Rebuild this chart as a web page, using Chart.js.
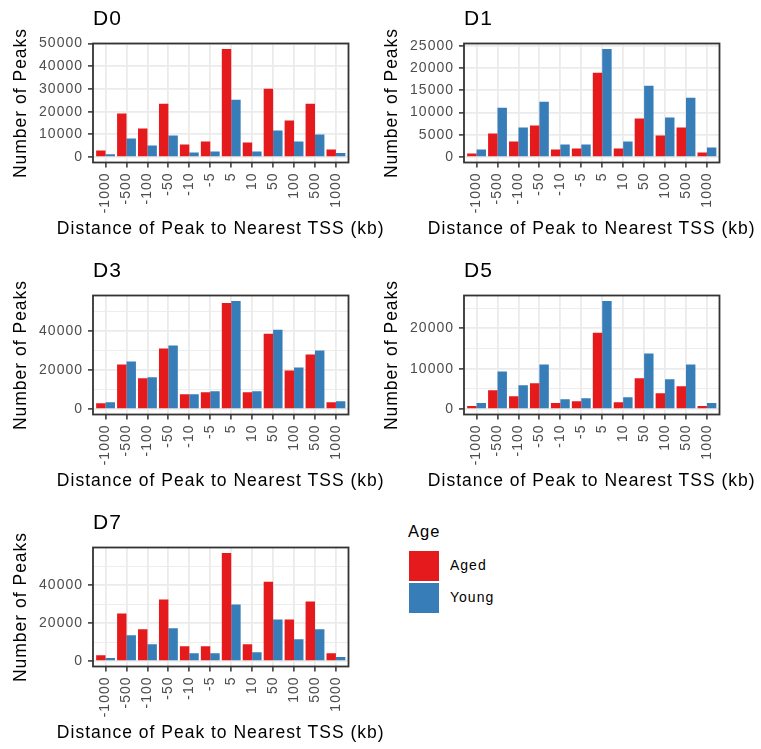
<!DOCTYPE html>
<html>
<head>
<meta charset="utf-8">
<script src="https://cdn.jsdelivr.net/npm/chart.js@4/dist/chart.umd.min.js"></script>
<style>
  html, body { margin: 0; padding: 0; background: #ffffff; }
  body { width: 761px; height: 749px; position: relative; overflow: hidden;
         font-family: "Liberation Sans", Arial, Helvetica, sans-serif; letter-spacing: 1px; }
  .cell { position: absolute; width: 390px; height: 252px; }
  .cell canvas { display: block; }
  .lg { position: absolute; white-space: nowrap; color: #000; }
  .key { position: absolute; width: 30px; }
</style>
</head>
<body>
<div class="cell" style="left:0px;top:0px"><canvas id="c0" width="390" height="252"></canvas></div>
<div class="cell" style="left:371px;top:0px"><canvas id="c1" width="390" height="252"></canvas></div>
<div class="cell" style="left:0px;top:252px"><canvas id="c2" width="390" height="252"></canvas></div>
<div class="cell" style="left:371px;top:252px"><canvas id="c3" width="390" height="252"></canvas></div>
<div class="cell" style="left:0px;top:504px"><canvas id="c4" width="390" height="252"></canvas></div>

<div id="legend"></div>

<script>
// ---------- data ----------
const categories = ['-1000', '-500', '-100', '-50', '-10', '-5', '5', '10', '50', '100', '500', '1000'];
const panelTitles = ['D0', 'D1', 'D3', 'D5', 'D7'];
const seriesNames = ['Aged', 'Young'];
const legendTitle = 'Age';
const xAxisTitle = 'Distance of Peak to Nearest TSS (kb)';
const yAxisTitle = 'Number of Peaks';

const d0Aged  = [2900, 19150, 12600, 23500, 5550, 6900, 47660, 6400, 30100, 16100, 23500, 3350];
const d0Young = [1200, 8200, 5100, 9500, 2050, 2500, 25300, 2500, 11700, 6900, 9900, 1750];
const d1Aged  = [820, 5300, 3500, 7090, 1700, 1940, 18960, 1940, 8660, 4850, 6640, 1040];
const d1Young = [1700, 11100, 6640, 12460, 2840, 2840, 24330, 3500, 16040, 8880, 13360, 2160];
const d3Aged  = [3040, 22780, 15700, 30890, 7600, 8600, 54180, 8600, 38480, 19750, 27850, 3540];
const d3Young = [3540, 24300, 16200, 32400, 7600, 9110, 55190, 9110, 40500, 21270, 29870, 4050];
const d5Aged  = [740, 4670, 3200, 6390, 1480, 1970, 18930, 1720, 7620, 3930, 5660, 740];
const d5Young = [1480, 9340, 5900, 11070, 2460, 2700, 26800, 2950, 13770, 7380, 11070, 1480];
const d7Aged  = [3140, 25150, 16770, 32490, 7860, 7860, 57120, 8910, 41920, 22010, 31440, 4190];
const d7Young = [1570, 13620, 8910, 17290, 4190, 4190, 29870, 4720, 22010, 11530, 16770, 2100];

// labelled y-tick spacing per panel
const yTickSteps = [10000, 5000, 20000, 10000, 20000];

// ---------- styling ----------
const seriesColors = ['#E41A1C', '#377EB8'];
const FONT = '"Liberation Sans", Arial, Helvetica, sans-serif';
Chart.defaults.font.family = FONT;

const textPlugin = {
  id: 'textTweaks',
  beforeInit(chart) {
    const ctx = chart.ctx;
    const orig = ctx.fillText;
    // let axis titles keep their natural width (no maxWidth squeeze)
    ctx.fillText = function (t, x, y) { return orig.call(this, t, x, y); };
  },
  beforeDraw(chart) { chart.ctx.letterSpacing = '1px'; }
};
const borderPlugin = {
  id: 'panelBorder',
  afterDatasetsDraw(chart) {
    const { ctx, chartArea: a } = chart;
    ctx.save();
    ctx.strokeStyle = '#333333';
    ctx.lineWidth = 1.8;
    ctx.strokeRect(a.left, a.top, a.right - a.left, a.bottom - a.top);
    ctx.restore();
  }
};

function isMajor(v, step) {
  return Math.abs(v / step - Math.round(v / step)) < 1e-6;
}

function makeChart(canvasId, title, aged, young, step) {
  const top = Math.max(...aged, ...young);
  const ncat = categories.length;
  return new Chart(document.getElementById(canvasId), {
    type: 'bar',
    data: {
      labels: categories,
      datasets: [
        { label: seriesNames[0], data: aged, backgroundColor: seriesColors[0], borderWidth: 0 },
        { label: seriesNames[1], data: young, backgroundColor: seriesColors[1], borderWidth: 0 }
      ]
    },
    options: {
      responsive: false,
      animation: false,
      devicePixelRatio: 1,
      layout: { padding: { left: 0, right: 41.5, top: 0, bottom: 0 } },
      datasets: { bar: { categoryPercentage: 0.9, barPercentage: 1.0 } },
      plugins: {
        legend: { display: false },
        tooltip: { enabled: false },
        title: {
          display: true, text: title, align: 'start', fullSize: false,
          color: '#000000', font: { size: 21, weight: 'normal', family: FONT },
          padding: { top: 7, bottom: 11.3 }
        }
      },
      scales: {
        x: {
          type: 'category',
          offset: false,
          grid: { offset: false, color: '#EBEBEB', lineWidth: 1.8,
                  tickColor: '#333333', tickWidth: 1.5, tickLength: 5 },
          border: { display: false },
          ticks: { autoSkip: false, minRotation: 90, maxRotation: 90, padding: 5,
                   color: '#4D4D4D', font: { size: 14, family: FONT } },
          title: { display: true, text: xAxisTitle, color: '#000000',
                   font: { size: 17.5, family: FONT }, padding: { top: 0, bottom: 12 } },
          afterBuildTicks: (s) => { s._startValue = -0.6; s._valueRange = ncat - 1 + 1.2; },
          afterFit: (s) => { s.height = 89.5; }
        },
        y: {
          bounds: 'data',
          min: -0.05 * top,
          max: 1.05 * top,
          grid: {
            color: '#EBEBEB',
            lineWidth: (c) => (c.tick && isMajor(c.tick.value, step) ? 1.8 : 0.9),
            tickColor: (c) => (c.tick && isMajor(c.tick.value, step) ? '#333333' : 'rgba(0,0,0,0)'),
            tickWidth: 1.5, tickLength: 5
          },
          border: { display: false },
          ticks: {
            padding: 5, color: '#4D4D4D', font: { size: 14, family: FONT },
            callback: (v) => (isMajor(v, step) ? String(v) : '')
          },
          title: { display: true, text: yAxisTitle, color: '#000000',
                   font: { size: 17.5, family: FONT }, padding: { top: 10.5, bottom: 0 } },
          afterBuildTicks: (s) => {
            const t = [];
            for (let v = 0; v <= s.max + 1e-6; v += step / 2) t.push({ value: v });
            s.ticks = t;
          },
          afterFit: (s) => { s.width = 93; }
        }
      }
    },
    plugins: [textPlugin, borderPlugin]
  });
}

const panels = [
  [d0Aged, d0Young], [d1Aged, d1Young], [d3Aged, d3Young], [d5Aged, d5Young], [d7Aged, d7Young]
];
panels.forEach((p, i) => makeChart('c' + i, panelTitles[i], p[0], p[1], yTickSteps[i]));

// ---------- legend (HTML) ----------
(function buildLegend() {
  const lg = document.getElementById('legend');
  const t = document.createElement('div');
  t.className = 'lg';
  t.textContent = legendTitle;
  Object.assign(t.style, { left: '408px', top: '520.5px', fontSize: '16.5px', lineHeight: '20px', height: '20px' });
  lg.appendChild(t);
  seriesNames.forEach((name, i) => {
    const k = document.createElement('div');
    k.className = 'key';
    Object.assign(k.style, { left: '409px', top: (551 + i * 32) + 'px', height: '30px', background: seriesColors[i] });
    lg.appendChild(k);
    const l = document.createElement('div');
    l.className = 'lg';
    l.textContent = name;
    Object.assign(l.style, { left: '450px', top: (555 + i * 32) + 'px', fontSize: '14px', lineHeight: '20px', height: '20px' });
    lg.appendChild(l);
  });
})();
</script>
</body>
</html>
